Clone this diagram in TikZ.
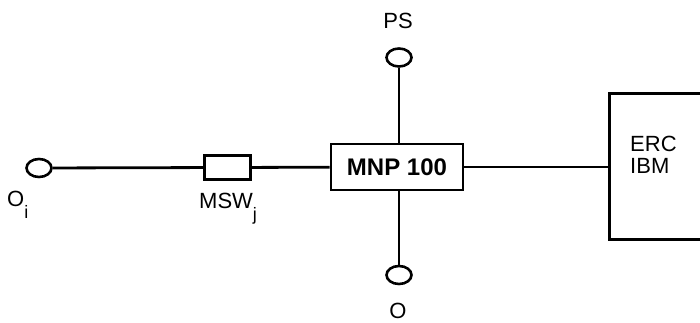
\documentclass[tikz,border=0pt]{standalone}
\usepackage{fontspec}
\setmainfont{Liberation Sans}
\usetikzlibrary{shapes.geometric}
\newcommand{\lowsub}[1]{\raisebox{-12pt}{\fontsize{18}{20}\selectfont #1}}
\begin{document}
\begin{tikzpicture}[x=1pt,y=-1pt,
  wire/.style={line width=2.8pt},
  term/.style={draw,line width=2.6pt,ellipse,minimum width=25pt,minimum height=18pt,inner sep=0pt},
  blk/.style={draw,line width=2.8pt,inner sep=0pt},
  lbl/.style={font=\fontsize{22}{24}\selectfont,inner sep=0pt}]
\useasboundingbox (0,0) rectangle (700,323);
\clip (0,0) rectangle (700,323);
\node[term] (oi) at (39,168) {};
\node[blk,minimum width=46pt,minimum height=24pt] (msw) at (227.5,167.5) {};
\node[blk,minimum width=132pt,minimum height=46pt,font=\fontsize{24}{26}\selectfont\bfseries] (mnp) at (397,167) {MNP 100};
\node[term] (ps) at (399,57.5) {};
\node[term] (o) at (399,275) {};
\node[blk,minimum width=120pt,minimum height=146pt,anchor=north west] (erc) at (608,92) {};
\node[lbl,align=left,anchor=north west] (erct) at (630,136) {ERC\\[-2pt]IBM};
\draw[wire] (oi) -- (msw);
\draw[wire] (msw) -- (mnp);
\draw[wire] (mnp) -- (mnp -| erc.west);
\draw[wire] (ps) -- (ps |- mnp.north);
\draw[wire] (o) -- (o |- mnp.south);
\node[lbl] (psl) at (398,21) {PS};
\node[lbl,anchor=base] (ol) at (398,318) {O};
\node[lbl,anchor=north west] (oil) at (7,191) {O\lowsub{i}};
\node[lbl,anchor=north west] (mswl) at (199,193) {MSW\lowsub{j}};
\end{tikzpicture}
\end{document}
